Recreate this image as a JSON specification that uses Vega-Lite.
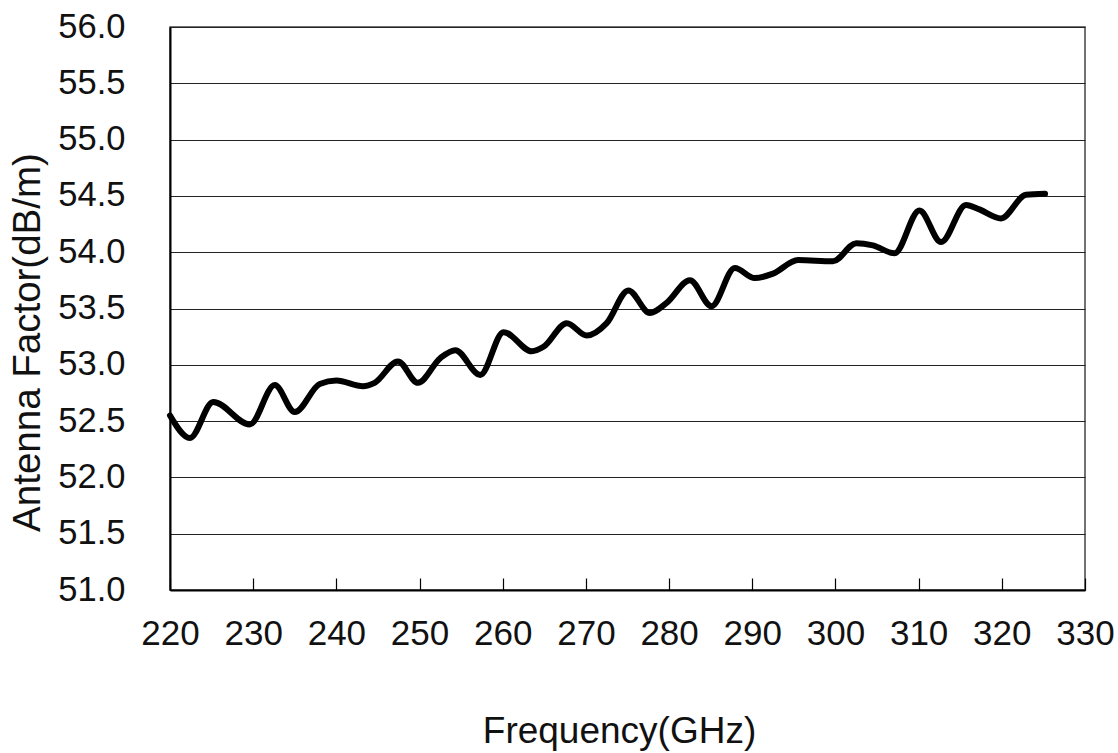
{
  "$schema": "https://vega.github.io/schema/vega-lite/v6.json",
  "width": 915,
  "height": 563,
  "autosize": "none",
  "padding": {"left": 170, "top": 27, "right": 33, "bottom": 163},
  "background": "white",
  "config": {
    "view": {"stroke": "#444", "strokeWidth": 1.5},
    "font": "Liberation Sans"
  },
  "data": {
    "values": [
      {"f": 220.0, "af": 52.55},
      {"f": 222.4, "af": 52.35},
      {"f": 225.2, "af": 52.67},
      {"f": 229.6, "af": 52.47},
      {"f": 232.6, "af": 52.82},
      {"f": 235.0, "af": 52.58},
      {"f": 238.0, "af": 52.83},
      {"f": 240.0, "af": 52.86},
      {"f": 243.2, "af": 52.81},
      {"f": 244.6, "af": 52.84},
      {"f": 247.4, "af": 53.03},
      {"f": 249.8, "af": 52.84},
      {"f": 252.5, "af": 53.06},
      {"f": 254.3, "af": 53.13},
      {"f": 257.3, "af": 52.91},
      {"f": 260.1, "af": 53.29},
      {"f": 263.5, "af": 53.12},
      {"f": 264.9, "af": 53.16},
      {"f": 267.7, "af": 53.37},
      {"f": 270.1, "af": 53.26},
      {"f": 272.5, "af": 53.37},
      {"f": 275.1, "af": 53.66},
      {"f": 277.7, "af": 53.46},
      {"f": 279.7, "af": 53.55},
      {"f": 282.5, "af": 53.75},
      {"f": 285.1, "af": 53.52},
      {"f": 287.9, "af": 53.86},
      {"f": 290.3, "af": 53.77},
      {"f": 292.5, "af": 53.81},
      {"f": 295.5, "af": 53.93},
      {"f": 299.7, "af": 53.92},
      {"f": 302.5, "af": 54.08},
      {"f": 304.5, "af": 54.06},
      {"f": 307.1, "af": 53.99},
      {"f": 310.1, "af": 54.37},
      {"f": 312.7, "af": 54.09},
      {"f": 315.7, "af": 54.42},
      {"f": 317.3, "af": 54.38},
      {"f": 319.9, "af": 54.30},
      {"f": 322.9, "af": 54.51},
      {"f": 325.2, "af": 54.52}
    ]
  },
  "mark": {"type": "line", "color": "black", "strokeWidth": 6, "interpolate": "monotone", "strokeCap": "round", "strokeJoin": "round"},
  "encoding": {
    "x": {
      "field": "f",
      "type": "quantitative",
      "scale": {"domain": [220, 330], "nice": false, "zero": false},
      "axis": {
        "title": "Frequency(GHz)",
        "values": [220, 230, 240, 250, 260, 270, 280, 290, 300, 310, 320, 330],
        "grid": false,
        "domainColor": "black",
        "domainWidth": 2,
        "tickColor": "black",
        "tickWidth": 1.2,
        "tickSize": -12,
        "labelPadding": 38,
        "labelDx": -6,
        "labelFontSize": 35,
        "labelColor": "#111",
        "labelFlush": false,
        "labelOverlap": false,
        "titleFontSize": 37,
        "titleFontWeight": "normal",
        "titleColor": "#111",
        "titleX": 449,
        "titleY": 141,
        "titleBaseline": "middle",
        "titleAlign": "center",
        "titleAnchor": "middle"
      }
    },
    "y": {
      "field": "af",
      "type": "quantitative",
      "scale": {"domain": [51, 56], "nice": false, "zero": false},
      "axis": {
        "title": "Antenna Factor(dB/m)",
        "values": [51, 51.5, 52, 52.5, 53, 53.5, 54, 54.5, 55, 55.5, 56],
        "format": ".1f",
        "grid": true,
        "gridColor": "#222",
        "gridWidth": 1.2,
        "ticks": false,
        "domainColor": "black",
        "domainWidth": 2,
        "labelPadding": 45,
        "labelFontSize": 34.5,
        "labelColor": "#111",
        "labelFlush": false,
        "labelOverlap": false,
        "titleFontSize": 38.5,
        "titleFontWeight": "normal",
        "titleColor": "#111",
        "titleX": -143,
        "titleY": 315,
        "titleBaseline": "middle",
        "titleAlign": "center",
        "titleAngle": -90
      }
    }
  }
}
